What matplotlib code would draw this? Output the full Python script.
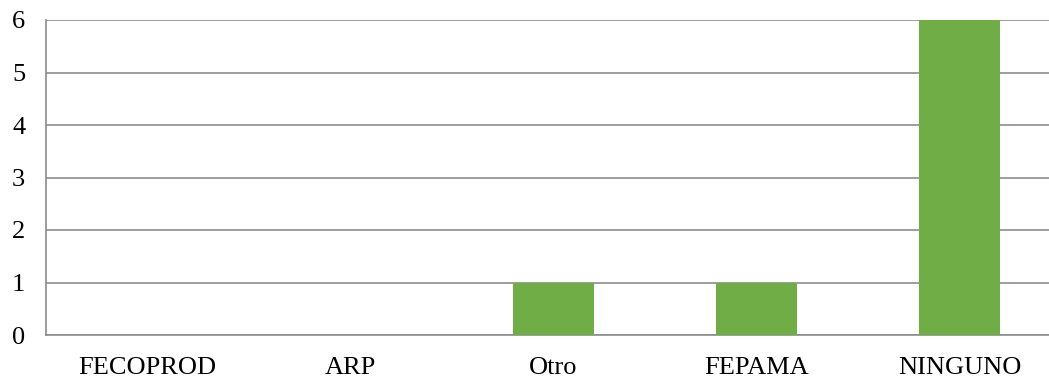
import matplotlib.pyplot as plt

categories = ['FECOPROD', 'ARP', 'Otro', 'FEPAMA', 'NINGUNO']
counts = [0, 0, 1, 1, 6]
yticks = [0, 1, 2, 3, 4, 5, 6]

plt.rcParams['font.family'] = ['Liberation Serif', 'DejaVu Serif']

fig = plt.figure(figsize=(10.49, 3.78), dpi=100)
ax = fig.add_axes([46 / 1049, 1 - 335 / 378, 1 - 46 / 1049, 315 / 378])

ax.bar(range(len(categories)), counts, width=0.4, color='#70AD47', zorder=3)

ax.set_xlim(-0.5, 4.44)
ax.set_ylim(0, 6)
ax.set_yticks(yticks)
ax.set_xticks(range(len(categories)))
ax.set_xticklabels(categories)
ax.tick_params(axis='both', length=0, labelsize=19, colors='black')
ax.tick_params(axis='x', pad=16)
ax.tick_params(axis='y', pad=15)

ax.grid(axis='y', color='#8c8c8c', linewidth=1.2, zorder=0)
for side in ['top', 'right']:
    ax.spines[side].set_visible(False)
for side in ['left', 'bottom']:
    ax.spines[side].set_color('#8c8c8c')
    ax.spines[side].set_linewidth(1.2)

fig.savefig('out.png', dpi=100)
